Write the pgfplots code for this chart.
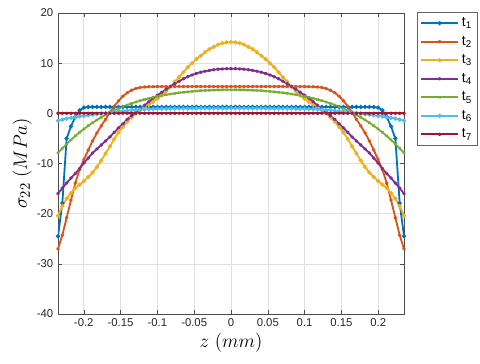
\documentclass[border=0pt]{standalone}
\usepackage{fontspec}
\setmainfont{Liberation Sans}
\usepackage{pgfplots}
\usepackage{pgfplotstable}
\pgfplotsset{compat=1.18}

\definecolor{c1}{rgb}{0,0.447,0.741}
\definecolor{c2}{rgb}{0.85,0.325,0.098}
\definecolor{c3}{rgb}{0.929,0.694,0.125}
\definecolor{c4}{rgb}{0.494,0.184,0.556}
\definecolor{c5}{rgb}{0.466,0.674,0.188}
\definecolor{c6}{rgb}{0.301,0.745,0.933}
\definecolor{c7}{rgb}{0.635,0.078,0.184}

% sigma_22 over thickness, seven time steps
\pgfplotstableread{
z t1 t2 t3 t4 t5 t6 t7
-0.235 -24.5 -27.0 -20.4 -16.0 -7.90 -1.45 0
-0.229125 -17.9 -24.3 -18.5 -14.9 -6.98 -1.25 0
-0.22325 -5.0 -20.8 -17.0 -13.9 -6.10 -1.05 0
-0.217375 -2.6 -17.3 -15.9 -12.9 -5.28 -0.88 0
-0.2115 -0.7 -13.9 -14.9 -12.0 -4.51 -0.75 0
-0.205625 0.6 -11.2 -14.2 -11.0 -3.79 -0.62 0
-0.19975 1.15 -9.2 -13.5 -9.9 -3.11 -0.50 0
-0.193875 1.25 -7.3 -12.7 -8.9 -2.47 -0.39 0
-0.188 1.27 -5.5 -11.8 -7.9 -1.87 -0.28 0
-0.182125 1.28 -3.9 -10.7 -7.1 -1.32 -0.17 0
-0.17625 1.28 -2.5 -9.4 -6.3 -0.80 -0.06 0
-0.170375 1.28 -1.2 -8.0 -5.5 -0.31 0.05 0
-0.1645 1.28 0.2 -6.6 -4.7 0.14 0.15 0
-0.158625 1.28 1.4 -5.1 -3.8 0.57 0.25 0
-0.15275 1.28 2.5 -3.8 -2.9 0.96 0.35 0
-0.146875 1.28 3.4 -2.7 -2.1 1.32 0.45 0
-0.141 1.28 4.1 -1.7 -1.2 1.66 0.54 0
-0.135125 1.28 4.6 -0.8 -0.5 1.97 0.62 0
-0.12925 1.28 4.95 0.0 0.2 2.25 0.69 0
-0.123375 1.28 5.15 0.6 0.9 2.52 0.75 0
-0.1175 1.28 5.25 1.15 1.6 2.76 0.80 0
-0.111625 1.28 5.30 1.7 2.3 2.99 0.84 0
-0.10575 1.28 5.32 2.3 3.0 3.19 0.87 0
-0.099875 1.28 5.33 2.9 3.6 3.38 0.90 0
-0.094 1.28 5.34 3.6 4.2 3.55 0.92 0
-0.088125 1.28 5.35 4.4 4.8 3.71 0.94 0
-0.08225 1.28 5.35 5.3 5.35 3.85 0.95 0
-0.076375 1.28 5.35 6.3 5.9 3.98 0.96 0
-0.0705 1.28 5.35 7.2 6.4 4.10 0.97 0
-0.064625 1.28 5.35 8.2 6.9 4.20 0.98 0
-0.05875 1.28 5.35 9.2 7.3 4.29 0.98 0
-0.052875 1.28 5.35 10.0 7.65 4.37 0.99 0
-0.047 1.28 5.35 10.8 7.95 4.45 0.99 0
-0.041125 1.28 5.35 11.5 8.2 4.51 1.00 0
-0.03525 1.28 5.35 12.2 8.4 4.56 1.00 0
-0.029375 1.28 5.35 12.8 8.55 4.60 1.00 0
-0.0235 1.28 5.35 13.25 8.7 4.64 1.00 0
-0.017625 1.28 5.35 13.7 8.8 4.67 1.00 0
-0.01175 1.28 5.35 14.0 8.85 4.68 1.00 0
-0.005875 1.28 5.35 14.15 8.9 4.70 1.00 0
0 1.28 5.35 14.2 8.9 4.70 1.00 0
0.005875 1.28 5.35 14.15 8.9 4.70 1.00 0
0.01175 1.28 5.35 14.0 8.85 4.68 1.00 0
0.017625 1.28 5.35 13.7 8.8 4.67 1.00 0
0.0235 1.28 5.35 13.25 8.7 4.64 1.00 0
0.029375 1.28 5.35 12.8 8.55 4.60 1.00 0
0.03525 1.28 5.35 12.2 8.4 4.56 1.00 0
0.041125 1.28 5.35 11.5 8.2 4.51 1.00 0
0.047 1.28 5.35 10.8 7.95 4.45 0.99 0
0.052875 1.28 5.35 10.0 7.65 4.37 0.99 0
0.05875 1.28 5.35 9.2 7.3 4.29 0.98 0
0.064625 1.28 5.35 8.2 6.9 4.20 0.98 0
0.0705 1.28 5.35 7.2 6.4 4.10 0.97 0
0.076375 1.28 5.35 6.3 5.9 3.98 0.96 0
0.08225 1.28 5.35 5.3 5.35 3.85 0.95 0
0.088125 1.28 5.35 4.4 4.8 3.71 0.94 0
0.094 1.28 5.34 3.6 4.2 3.55 0.92 0
0.099875 1.28 5.33 2.9 3.6 3.38 0.90 0
0.10575 1.28 5.32 2.3 3.0 3.19 0.87 0
0.111625 1.28 5.30 1.7 2.3 2.99 0.84 0
0.1175 1.28 5.25 1.15 1.6 2.76 0.80 0
0.123375 1.28 5.15 0.6 0.9 2.52 0.75 0
0.12925 1.28 4.95 0.0 0.2 2.25 0.69 0
0.135125 1.28 4.6 -0.8 -0.5 1.97 0.62 0
0.141 1.28 4.1 -1.7 -1.2 1.66 0.54 0
0.146875 1.28 3.4 -2.7 -2.1 1.32 0.45 0
0.15275 1.28 2.5 -3.8 -2.9 0.96 0.35 0
0.158625 1.28 1.4 -5.1 -3.8 0.57 0.25 0
0.1645 1.28 0.2 -6.6 -4.7 0.14 0.15 0
0.170375 1.28 -1.2 -8.0 -5.5 -0.31 0.05 0
0.17625 1.28 -2.5 -9.4 -6.3 -0.80 -0.06 0
0.182125 1.28 -3.9 -10.7 -7.1 -1.32 -0.17 0
0.188 1.27 -5.5 -11.8 -7.9 -1.87 -0.28 0
0.193875 1.25 -7.3 -12.7 -8.9 -2.47 -0.39 0
0.19975 1.15 -9.2 -13.5 -9.9 -3.11 -0.50 0
0.205625 0.6 -11.2 -14.2 -11.0 -3.79 -0.62 0
0.2115 -0.7 -13.9 -14.9 -12.0 -4.51 -0.75 0
0.217375 -2.6 -17.3 -15.9 -12.9 -5.28 -0.88 0
0.22325 -5.0 -20.8 -17.0 -13.9 -6.10 -1.05 0
0.229125 -17.9 -24.3 -18.5 -14.9 -6.98 -1.25 0
0.235 -24.5 -27.0 -20.4 -16.0 -7.90 -1.45 0
}\sigdata

\begin{document}
\begin{tikzpicture}
\begin{axis}[
    scale only axis,
    width=259.5pt, height=225.75pt,
    xmin=-0.235, xmax=0.235,
    ymin=-40, ymax=20,
    xtick={-0.2,-0.15,-0.1,-0.05,0,0.05,0.1,0.15,0.2},
    xticklabels={-0.2,-0.15,-0.1,-0.05,0,0.05,0.1,0.15,0.2},
    ytick={-40,-30,-20,-10,0,10,20},
    yticklabels={-40,-30,-20,-10,0,10,20},
    tick label style={font=\fontsize{8.5}{10}\selectfont, text=black!85},
    tick align=inside,
    major tick length=3pt,
    axis line style={black!70},
    tick style={black!70},
    grid=major,
    grid style={black!12},
    xlabel={$z\ (mm)$},
    ylabel={$\sigma_{22}\ (MPa)$},
    label style={font=\fontsize{15}{18}\selectfont},
    xlabel style={yshift=2pt},
    ylabel style={yshift=-3pt},
    curve/.style={line width=1.35pt, mark size=1.2pt, mark options={solid, line width=0.8pt}},
    legend style={at={(1.038,1.003)}, anchor=north west,
        draw=black!60, font=\fontsize{10.5}{12}\selectfont,
        row sep=1.6pt, inner sep=2pt},
    legend cell align=left,
    legend image code/.code={\draw[mark repeat=2,mark phase=2,#1]
        plot coordinates {(0pt,0pt) (14pt,0pt) (28pt,0pt)};},
]
\addplot[curve, c1, mark=*] table[x=z, y=t1] {\sigdata};
\addlegendentry{t\textsubscript{1}}
\addplot[curve, c2, mark=asterisk] table[x=z, y=t2] {\sigdata};
\addlegendentry{t\textsubscript{2}}
\addplot[curve, c3, mark=*] table[x=z, y=t3] {\sigdata};
\addlegendentry{t\textsubscript{3}}
\addplot[curve, c4, mark=asterisk] table[x=z, y=t4] {\sigdata};
\addlegendentry{t\textsubscript{4}}
\addplot[curve, c5, mark=x] table[x=z, y=t5] {\sigdata};
\addlegendentry{t\textsubscript{5}}
\addplot[curve, c6, mark=*] table[x=z, y=t6] {\sigdata};
\addlegendentry{t\textsubscript{6}}
\addplot[curve, c7, mark=asterisk] table[x=z, y=t7] {\sigdata};
\addlegendentry{t\textsubscript{7}}
\end{axis}
\pgfresetboundingbox
\path (-43.5pt,-37.5pt) rectangle (316.5pt,235.5pt);
\end{tikzpicture}
\end{document}
